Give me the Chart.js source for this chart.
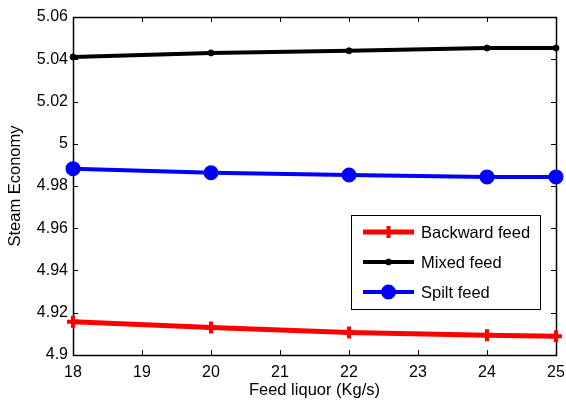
<!DOCTYPE html>
<html>
<head>
<meta charset="utf-8">
<script src="https://cdn.jsdelivr.net/npm/chart.js@4"></script>
<style>
  body { margin: 0; background: #fff; }
  #wrap { width: 566px; height: 403px; }
</style>
</head>
<body>
<div id="wrap"><canvas id="myChart" width="566" height="403"></canvas></div>
<script>
// data
const feedLiquor = [18, 20, 22, 24, 25];
const backwardFeed = [4.9157, 4.9130, 4.9106, 4.9094, 4.9089];
const mixedFeed = [5.0411, 5.0430, 5.0440, 5.0453, 5.0453];
const spiltFeed = [4.9882, 4.9863, 4.9852, 4.9843, 4.9843];
const seriesNames = ['Backward feed', 'Mixed feed', 'Spilt feed'];

const FONT = 'Liberation Sans, Arial, sans-serif';

const toPoints = vals => vals.map((v, i) => ({x: feedLiquor[i], y: v}));

// box + inward ticks on all four sides, like matlab
const frame = {
    id: 'frame',
    beforeDatasetsDraw(chart) {
        const {ctx, chartArea: a, scales} = chart;
        ctx.save();
        ctx.strokeStyle = '#000';
        ctx.lineWidth = 1;
        ctx.beginPath();
        scales.x.ticks.forEach(t => {
            const px = Math.round(scales.x.getPixelForValue(t.value)) + 0.5;
            ctx.moveTo(px, a.bottom); ctx.lineTo(px, a.bottom - 5);
            ctx.moveTo(px, a.top); ctx.lineTo(px, a.top + 5);
        });
        scales.y.ticks.forEach(t => {
            const py = Math.round(scales.y.getPixelForValue(t.value)) + 0.5;
            ctx.moveTo(a.left, py); ctx.lineTo(a.left + 5, py);
            ctx.moveTo(a.right, py); ctx.lineTo(a.right - 5, py);
        });
        ctx.stroke();
        ctx.lineWidth = 1.5;
        ctx.strokeRect(Math.round(a.left) + 0.5, Math.round(a.top) + 0.5,
            Math.round(a.right - a.left), Math.round(a.bottom - a.top));
        ctx.restore();
    }
};

// legend box inside the axes, lower right
const boxLegend = {
    id: 'boxLegend',
    afterDraw(chart) {
        const {ctx} = chart;
        const x0 = 351, y0 = 215, w = 189, h = 94;
        ctx.save();
        ctx.fillStyle = '#fff';
        ctx.fillRect(x0, y0, w, h);
        ctx.strokeStyle = '#000';
        ctx.lineWidth = 1;
        ctx.strokeRect(x0 + 0.5, y0 + 0.5, w, h);
        chart.data.datasets.forEach((ds, i) => {
            const y = y0 + 17 + i * 30;
            ctx.strokeStyle = ds.borderColor;
            ctx.lineWidth = ds.borderWidth;
            ctx.beginPath();
            ctx.moveTo(363, y); ctx.lineTo(414, y);
            ctx.stroke();
            ctx.fillStyle = ds.pointBackgroundColor;
            ctx.strokeStyle = ds.pointBorderColor;
            ctx.lineWidth = ds.pointBorderWidth;
            Chart.helpers.drawPoint(ctx, {
                pointStyle: ds.pointStyle, radius: ds.pointRadius,
                rotation: 0, borderWidth: ds.pointBorderWidth
            }, 388.5, y);
            ctx.fillStyle = '#000';
            ctx.font = '16.5px ' + FONT;
            ctx.textBaseline = 'middle';
            ctx.fillText(ds.label, 421, y + 1);
        });
        ctx.restore();
    }
};

const fmt = v => String(Number(v.toFixed(2)));

const config = {
    type: 'line',
    data: {
        datasets: [
            {
                label: seriesNames[0],
                data: toPoints(backwardFeed),
                borderColor: '#ff0000',
                borderWidth: 5,
                pointStyle: 'cross',
                pointRadius: 6,
                pointBorderWidth: 4,
                pointBackgroundColor: '#ff0000',
                pointBorderColor: '#ff0000'
            },
            {
                label: seriesNames[1],
                data: toPoints(mixedFeed),
                borderColor: '#000000',
                borderWidth: 4,
                pointStyle: 'circle',
                pointRadius: 3,
                pointBorderWidth: 1,
                pointBackgroundColor: '#000000',
                pointBorderColor: '#000000'
            },
            {
                label: seriesNames[2],
                data: toPoints(spiltFeed),
                borderColor: '#0000ff',
                borderWidth: 4,
                pointStyle: 'circle',
                pointRadius: 6.5,
                pointBorderWidth: 2,
                pointBackgroundColor: '#0000ff',
                pointBorderColor: '#0000ff'
            }
        ]
    },
    options: {
        responsive: false,
        animation: false,
        clip: false,
        layout: { padding: { top: 17, right: 0, left: 0, bottom: 0 } },
        plugins: {
            legend: { display: false },
            tooltip: { enabled: false }
        },
        elements: { line: { tension: 0 } },
        scales: {
            x: {
                type: 'linear',
                min: 18,
                max: 25,
                grid: { display: false, drawTicks: false },
                border: { display: false },
                ticks: {
                    stepSize: 1,
                    padding: 8,
                    color: '#000',
                    font: { family: FONT, size: 16 },
                    callback: v => fmt(v)
                },
                title: {
                    display: true,
                    text: 'Feed liquor (Kg/s)',
                    color: '#000',
                    font: { family: FONT, size: 16.5 },
                    padding: { top: 0, bottom: 3 }
                },
                afterFit: s => {
                    s.height = 48;
                    s.paddingLeft = 0;
                    s.paddingRight = 9;
                }
            },
            y: {
                type: 'linear',
                min: 4.9,
                max: 5.06,
                grid: { display: false, drawTicks: false },
                border: { display: false },
                ticks: {
                    stepSize: 0.02,
                    padding: 5,
                    color: '#000',
                    font: { family: FONT, size: 16 },
                    callback: v => fmt(v)
                },
                title: {
                    display: true,
                    text: 'Steam Economy',
                    color: '#000',
                    font: { family: FONT, size: 16.5 },
                    padding: { top: 6, bottom: 0 }
                },
                afterFit: s => { s.width = 73; }
            }
        }
    },
    plugins: [frame, boxLegend]
};

const myChart = new Chart(document.getElementById('myChart'), config);
</script>
</body>
</html>
